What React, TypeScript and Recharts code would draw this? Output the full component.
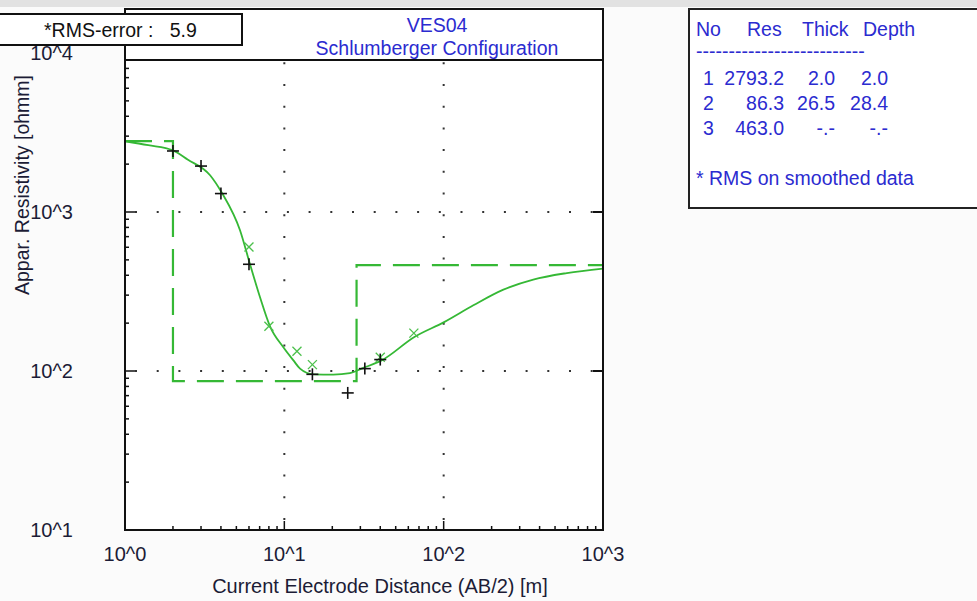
import React from 'react';
import { ComposedChart, Line, Scatter, XAxis, YAxis, ReferenceLine } from 'recharts';

// model curve (solid green)
const modelX = [1, 1.4, 2.0, 2.47, 3.42, 4.08, 5.27, 6.09, 7.03, 8.13, 9.86, 11.4, 12.55, 15.2, 20.3, 25.8, 31.3, 40.8, 65.5, 100.6, 153.6, 237, 365, 593, 1000];
const modelY = [2786, 2630, 2440, 2138, 1702, 1306, 767, 469, 292, 191, 141, 116.6, 103.5, 95.3, 95, 97, 104.5, 116.6, 163.7, 203, 259, 325, 376, 413, 441];

// layer model (dashed step)
const layerX = [1, 2.0, 2.0, 28.4, 28.4, 1000];
const layerY = [2793.2, 2793.2, 86.3, 86.3, 463.0, 463.0];

// field data (+)
const fieldX = [2.0, 3.0, 4.0, 6.0, 15.0, 25.0, 32.0, 40.0];
const fieldY = [2420, 1945, 1306, 469, 95.3, 72.8, 103.5, 118];

// smoothed data (x)
const smoothX = [6.0, 8.0, 12.0, 15.0, 40.0, 65.0];
const smoothY = [603, 191, 133, 109.7, 122, 173];

const xTicks = [1, 2, 3, 4, 5, 6, 7, 8, 9, 10, 20, 30, 40, 50, 60, 70, 80, 90, 100, 200, 300, 400, 500, 600, 700, 800, 900, 1000];
const yTicks = [10, 20, 30, 40, 50, 60, 70, 80, 90, 100, 200, 300, 400, 500, 600, 700, 800, 900, 1000, 2000, 3000, 4000, 5000, 6000, 7000, 8000, 9000, 10000];
const xMajor = [1, 10, 100, 1000];
const xMajorLabels = ['10^0', '10^1', '10^2', '10^3'];
const yMajor = [10, 100, 1000, 10000];
const yMajorLabels = ['10^1', '10^2', '10^3', '10^4'];

const tableHeader = ['No', 'Res', 'Thick', 'Depth'];
const tableNo = ['1', '2', '3'];
const tableRes = ['2793.2', '86.3', '463.0'];
const tableThick = ['2.0', '26.5', '-.-'];
const tableDepth = ['2.0', '28.4', '-.-'];

const modelData = modelX.map((x, i) => ({ x, y: modelY[i] }));
const layerData = layerX.map((x, i) => ({ x, y: layerY[i] }));
const fieldData = fieldX.map((x, i) => ({ x, y: fieldY[i] }));
const smoothData = smoothX.map((x, i) => ({ x, y: smoothY[i] }));

const FONT = '"Liberation Sans", Arial, sans-serif';
const FS = 19.5;
const AXFS = 20;
const INK = '#1c1c36';
const BLUE = '#2b2bd0';
const GREEN = '#35b835';

const L = 125, R = 603, B = 530;

const XTick = (props: any) => {
  const { x, payload } = props;
  const i = xMajor.indexOf(payload.value);
  return (
    <g>
      <line x1={x} x2={x} y1={B} y2={i >= 0 ? B - 9 : B - 4} stroke="#111" strokeWidth={1.5} />
      {i >= 0 && (
        <text x={x} y={561} textAnchor="middle" fontFamily={FONT} fontSize={AXFS} fill={INK}>
          {xMajorLabels[i]}
        </text>
      )}
    </g>
  );
};

const YTick = (props: any) => {
  const { y, payload } = props;
  const i = yMajor.indexOf(payload.value);
  return (
    <g>
      <line x1={L} x2={i >= 0 ? L + 10 : L + 4} y1={y} y2={y} stroke="#111" strokeWidth={1.5} />
      {i >= 0 && (
        <text x={73} y={y + 7} textAnchor="end" fontFamily={FONT} fontSize={AXFS} fill={INK}>
          {yMajorLabels[i]}
        </text>
      )}
    </g>
  );
};

const RTick = (props: any) => {
  const { y } = props;
  return <line x1={R} x2={R - 10} y1={y} y2={y} stroke="#111" strokeWidth={2} />;
};

const Plus = (props: any) => {
  const { cx, cy } = props;
  return (
    <g stroke="#111" strokeWidth={1.6}>
      <line x1={cx - 6} x2={cx + 6} y1={cy} y2={cy} />
      <line x1={cx} x2={cx} y1={cy - 6} y2={cy + 6} />
    </g>
  );
};

const Cross = (props: any) => {
  const { cx, cy } = props;
  return (
    <g stroke="#4cc04c" strokeWidth={1.3}>
      <line x1={cx - 4.5} x2={cx + 4.5} y1={cy - 4.5} y2={cy + 4.5} />
      <line x1={cx - 4.5} x2={cx + 4.5} y1={cy + 4.5} y2={cy - 4.5} />
    </g>
  );
};

const abs = (s: React.CSSProperties): React.CSSProperties => ({ position: 'absolute', boxSizing: 'border-box', ...s });
const txt: React.CSSProperties = { position: 'absolute', fontFamily: FONT, fontSize: FS, lineHeight: '22px', whiteSpace: 'pre' };

export default function App() {
  const gridDots = { stroke: '#333', strokeWidth: 2, strokeDasharray: '2 19.7', strokeDashoffset: 11.7 };
  return (
    <div style={abs({ left: 0, top: 0, width: 977, height: 601, background: '#fbfbfb', overflow: 'hidden' })}>
      <div style={abs({ left: 0, top: 0, width: 977, height: 7, background: '#e2e2e2' })} />
      <div style={abs({ left: L, top: 9, width: R - L, height: B - 9, background: '#fff' })} />
      <div style={abs({ left: 0, top: 0 })}>
        <ComposedChart width={977} height={601} margin={{ top: 53, right: 364, bottom: 31, left: 65 }}>
          <XAxis
            dataKey="x"
            type="number"
            scale="log"
            domain={[1, 1000]}
            allowDataOverflow
            ticks={xTicks}
            interval={0}
            height={40}
            axisLine={false}
            tickLine={false}
            tick={<XTick />}
          />
          <YAxis
            dataKey="y"
            type="number"
            scale="log"
            domain={[10, 10000]}
            allowDataOverflow
            ticks={yTicks}
            interval={0}
            width={60}
            axisLine={false}
            tickLine={false}
            tick={<YTick />}
          />
          <YAxis
            yAxisId="r"
            orientation="right"
            type="number"
            scale="log"
            domain={[10, 10000]}
            allowDataOverflow
            ticks={[100, 1000]}
            interval={0}
            width={10}
            axisLine={false}
            tickLine={false}
            tick={<RTick />}
          />
          <ReferenceLine x={10} {...gridDots} />
          <ReferenceLine x={100} {...gridDots} />
          <ReferenceLine y={100} {...gridDots} />
          <ReferenceLine y={1000} {...gridDots} />
          <Line
            data={layerData}
            dataKey="y"
            type="linear"
            stroke={GREEN}
            strokeWidth={2.2}
            strokeDasharray="27 12"
            dot={false}
            isAnimationActive={false}
          />
          <Line
            data={modelData}
            dataKey="y"
            type="monotone"
            stroke={GREEN}
            strokeWidth={1.8}
            dot={false}
            isAnimationActive={false}
          />
          <Scatter data={smoothData} dataKey="y" shape={<Cross />} isAnimationActive={false} />
          <Scatter data={fieldData} dataKey="y" shape={<Plus />} isAnimationActive={false} />
          <text x={29} y={185} transform="rotate(-90 29 185)" textAnchor="middle" fontFamily={FONT} fontSize={FS} fill={INK}>
            Appar. Resistivity [ohmm]
          </text>
          <text x={380} y={593} textAnchor="middle" fontFamily={FONT} fontSize={AXFS} fill={INK}>
            Current Electrode Distance (AB/2) [m]
          </text>
        </ComposedChart>
      </div>

      {/* title box */}
      <div style={abs({ left: L - 1, top: 8, width: R - L + 2, height: 53, background: '#fff', border: '2px solid #111' })}>
        <div style={{ ...txt, left: 0, width: 622, top: 4, textAlign: 'center', color: BLUE }}>VES04</div>
        <div style={{ ...txt, left: 0, width: 622, top: 27, textAlign: 'center', color: BLUE }}>Schlumberger Configuration</div>
      </div>
      {/* plot frame */}
      <div style={abs({ left: L - 1, top: 8, width: R - L + 2, height: B - 7, border: '2px solid #111', pointerEvents: 'none' })} />

      {/* RMS box */}
      <div style={abs({ left: -2, top: 13, width: 245, height: 33, background: '#fff', border: '2px solid #111' })}>
        <div style={{ ...txt, left: 44, top: 4, color: '#111' }}>*RMS-error :   5.9</div>
      </div>

      {/* layer table */}
      <div style={abs({ left: 688, top: 8, width: 300, height: 201, background: '#fff', border: '2px solid #222' })}>
        <div style={{ ...txt, left: 6, top: 8, color: BLUE }}>{tableHeader[0]}</div>
        <div style={{ ...txt, left: 57, top: 8, color: BLUE }}>{tableHeader[1]}</div>
        <div style={{ ...txt, left: 112, top: 8, color: BLUE }}>{tableHeader[2]}</div>
        <div style={{ ...txt, left: 173, top: 8, color: BLUE }}>{tableHeader[3]}</div>
        <div style={{ ...txt, left: 6, top: 30, color: BLUE }}>{'-'.repeat(26)}</div>
        {tableNo.map((n, i) => (
          <React.Fragment key={n}>
            <div style={{ ...txt, left: 13, top: 57 + i * 25, color: BLUE }}>{n}</div>
            <div style={{ ...txt, right: 300 - 98, top: 57 + i * 25, color: BLUE, textAlign: 'right' }}>{tableRes[i]}</div>
            <div style={{ ...txt, right: 300 - 149, top: 57 + i * 25, color: BLUE, textAlign: 'right' }}>{tableThick[i]}</div>
            <div style={{ ...txt, right: 300 - 202, top: 57 + i * 25, color: BLUE, textAlign: 'right' }}>{tableDepth[i]}</div>
          </React.Fragment>
        ))}
        <div style={{ ...txt, left: 6, top: 157, color: BLUE }}>* RMS on smoothed data</div>
      </div>
    </div>
  );
}
